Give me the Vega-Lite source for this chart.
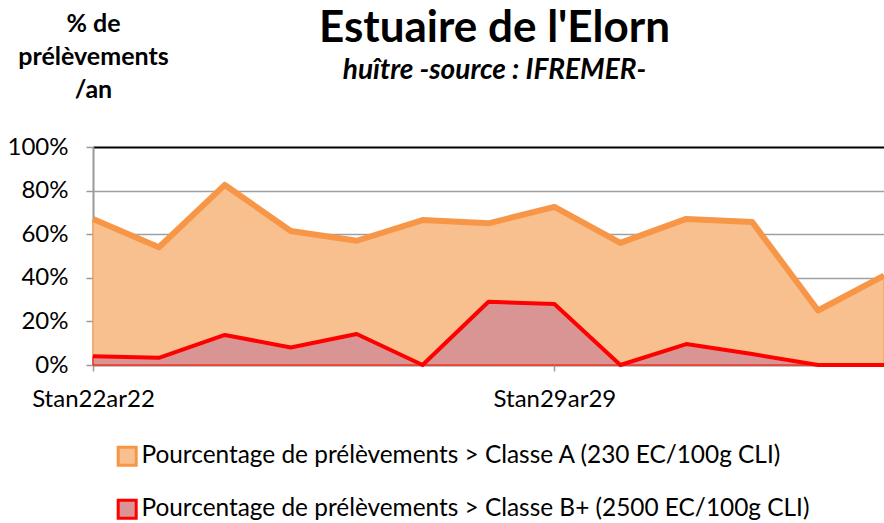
{
  "$schema": "https://vega.github.io/schema/vega-lite/v6.json",
  "width": 791,
  "height": 218,
  "autosize": {"type": "none"},
  "padding": {"left": 93, "top": 147, "right": 0, "bottom": 158},
  "background": "white",
  "config": {"font": "Lato", "view": {"stroke": null}},
  "title": {
    "text": "Estuaire de l'Elorn",
    "subtitle": "huître -source : IFREMER-",
    "fontSize": 44,
    "fontWeight": "bold",
    "color": "black",
    "subtitleFontSize": 28,
    "subtitleFontStyle": "italic",
    "subtitleFontWeight": "bold",
    "subtitleColor": "black",
    "subtitlePadding": 6,
    "anchor": "middle",
    "dx": 6,
    "offset": -74
  },
  "data": {
    "values": [
      {"date": "Stan22ar22", "series": "Pourcentage de prélèvements > Classe A (230 EC/100g CLI)", "value": 0.67},
      {"date": "Stan23ar23", "series": "Pourcentage de prélèvements > Classe A (230 EC/100g CLI)", "value": 0.54},
      {"date": "Stan24ar24", "series": "Pourcentage de prélèvements > Classe A (230 EC/100g CLI)", "value": 0.826},
      {"date": "Stan25ar25", "series": "Pourcentage de prélèvements > Classe A (230 EC/100g CLI)", "value": 0.615},
      {"date": "Stan26ar26", "series": "Pourcentage de prélèvements > Classe A (230 EC/100g CLI)", "value": 0.57},
      {"date": "Stan27ar27", "series": "Pourcentage de prélèvements > Classe A (230 EC/100g CLI)", "value": 0.665},
      {"date": "Stan28ar28", "series": "Pourcentage de prélèvements > Classe A (230 EC/100g CLI)", "value": 0.65},
      {"date": "Stan29ar29", "series": "Pourcentage de prélèvements > Classe A (230 EC/100g CLI)", "value": 0.725},
      {"date": "Stan30ar30", "series": "Pourcentage de prélèvements > Classe A (230 EC/100g CLI)", "value": 0.56},
      {"date": "Stan31ar31", "series": "Pourcentage de prélèvements > Classe A (230 EC/100g CLI)", "value": 0.67},
      {"date": "Stan32ar32", "series": "Pourcentage de prélèvements > Classe A (230 EC/100g CLI)", "value": 0.656},
      {"date": "Stan33ar33", "series": "Pourcentage de prélèvements > Classe A (230 EC/100g CLI)", "value": 0.25},
      {"date": "Stan34ar34", "series": "Pourcentage de prélèvements > Classe A (230 EC/100g CLI)", "value": 0.41},
      {"date": "Stan22ar22", "series": "Pourcentage de prélèvements > Classe B+ (2500 EC/100g CLI)", "value": 0.04},
      {"date": "Stan23ar23", "series": "Pourcentage de prélèvements > Classe B+ (2500 EC/100g CLI)", "value": 0.033},
      {"date": "Stan24ar24", "series": "Pourcentage de prélèvements > Classe B+ (2500 EC/100g CLI)", "value": 0.138},
      {"date": "Stan25ar25", "series": "Pourcentage de prélèvements > Classe B+ (2500 EC/100g CLI)", "value": 0.08},
      {"date": "Stan26ar26", "series": "Pourcentage de prélèvements > Classe B+ (2500 EC/100g CLI)", "value": 0.142},
      {"date": "Stan27ar27", "series": "Pourcentage de prélèvements > Classe B+ (2500 EC/100g CLI)", "value": 0},
      {"date": "Stan28ar28", "series": "Pourcentage de prélèvements > Classe B+ (2500 EC/100g CLI)", "value": 0.29},
      {"date": "Stan29ar29", "series": "Pourcentage de prélèvements > Classe B+ (2500 EC/100g CLI)", "value": 0.28},
      {"date": "Stan30ar30", "series": "Pourcentage de prélèvements > Classe B+ (2500 EC/100g CLI)", "value": 0},
      {"date": "Stan31ar31", "series": "Pourcentage de prélèvements > Classe B+ (2500 EC/100g CLI)", "value": 0.096},
      {"date": "Stan32ar32", "series": "Pourcentage de prélèvements > Classe B+ (2500 EC/100g CLI)", "value": 0.05},
      {"date": "Stan33ar33", "series": "Pourcentage de prélèvements > Classe B+ (2500 EC/100g CLI)", "value": 0},
      {"date": "Stan34ar34", "series": "Pourcentage de prélèvements > Classe B+ (2500 EC/100g CLI)", "value": 0}
    ]
  },
  "encoding": {
    "x": {
      "field": "date",
      "type": "ordinal",
      "sort": null,
      "scale": {"type": "point", "padding": 0},
      "axis": {
        "values": ["Stan22ar22", "Stan29ar29"],
        "title": null,
        "labelAngle": 0,
        "labelFontSize": 24,
        "labelColor": "black",
        "labelPadding": 16,
        "tickSize": 6,
        "tickColor": "#999999",
        "tickWidth": 1.5,
        "domainColor": "#999999",
        "domainWidth": 2,
        "grid": false
      }
    },
    "y": {
      "field": "value",
      "type": "quantitative",
      "stack": null,
      "scale": {"domain": [0, 1], "nice": false},
      "axis": {
        "values": [0, 0.2, 0.4, 0.6, 0.8, 1],
        "format": ".0%",
        "labelFontSize": 24,
        "labelColor": "black",
        "labelPadding": 18,
        "tickSize": 7,
        "tickColor": "#999999",
        "tickWidth": 1.5,
        "domainColor": "#999999",
        "domainWidth": 2,
        "gridColor": {"condition": {"test": "datum.value == 1", "value": "black"}, "value": "#a0a0a0"},
        "gridWidth": {"condition": {"test": "datum.value == 1", "value": 2}, "value": 1.5},
        "title": ["% de", "prélèvements", "/an"],
        "titleAngle": 0,
        "titleFontSize": 25,
        "titleFontWeight": "bold",
        "titleColor": "black",
        "titleAlign": "center",
        "titleBaseline": "top",
        "titleX": 0,
        "titleY": -136,
        "titleLineHeight": 33
      }
    }
  },
  "layer": [
    {
      "mark": {"type": "area", "strokeWidth": 1, "fillOpacity": 1},
      "encoding": {
        "fill": {
          "field": "series",
          "type": "nominal",
          "scale": {"range": ["#F9C08F", "#D99594"]},
          "legend": {
            "orient": "none",
            "legendX": 22,
            "legendY": 297,
            "direction": "vertical",
            "title": null,
            "labelFontSize": 24.4,
            "labelColor": "black",
            "labelLimit": 900,
            "labelOffset": 2,
            "rowPadding": 22,
            "symbolType": "square",
            "symbolSize": 324,
            "symbolStrokeWidth": 3,
            "encode": {
              "symbols": {
                "update": {
                  "stroke": {"scale": "stroke", "field": "value"},
                  "strokeWidth": {"value": 3}
                }
              }
            }
          }
        },
        "stroke": {
          "field": "series",
          "type": "nominal",
          "scale": {"range": ["#F79646", "#FF0000"]},
          "legend": null
        }
      }
    },
    {
      "mark": {"type": "line", "strokeJoin": "round"},
      "encoding": {
        "stroke": {
          "field": "series",
          "type": "nominal",
          "legend": null
        },
        "strokeWidth": {
          "condition": {"test": "indexof(datum.series, 'Classe A') >= 0", "value": 6},
          "value": 4
        }
      }
    }
  ]
}
